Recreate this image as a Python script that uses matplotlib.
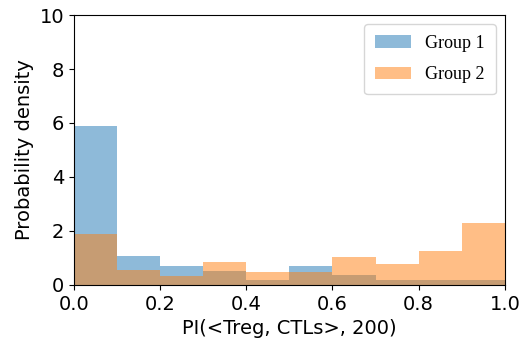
import numpy as np
import matplotlib.pyplot as plt

# Histogram bin edges and normalized densities for the two groups
bin_edges = np.linspace(0.0, 1.0, 11)
group1_density = [5.87, 1.07, 0.70, 0.52, 0.18, 0.70, 0.37, 0.18, 0.18, 0.18]
group2_density = [1.88, 0.55, 0.33, 0.85, 0.48, 0.48, 1.03, 0.77, 1.25, 2.29]

fig = plt.figure(figsize=(5.27, 3.42), dpi=100)
ax = fig.add_axes([0.140, 0.167, 0.818, 0.789])

widths = np.diff(bin_edges)
ax.bar(bin_edges[:-1], group1_density, width=widths, align='edge',
       color='C0', alpha=0.5, label='Group 1')
ax.bar(bin_edges[:-1], group2_density, width=widths, align='edge',
       color='C1', alpha=0.5, label='Group 2')

ax.set_xlim(0, 1)
ax.set_ylim(0, 10)
ax.set_xticks([0.0, 0.2, 0.4, 0.6, 0.8, 1.0])
ax.set_yticks([0, 2, 4, 6, 8, 10])
ax.tick_params(labelsize=14)
ax.set_xlabel('PI(<Treg, CTLs>, 200)', fontsize=14)
ax.set_ylabel('Probability density', fontsize=14)

ax.legend(loc='upper right', prop={'family': 'Liberation Serif', 'size': 13},
          handlelength=2.0, borderpad=0.6, labelspacing=0.8)

fig.savefig('out.png', dpi=100)
